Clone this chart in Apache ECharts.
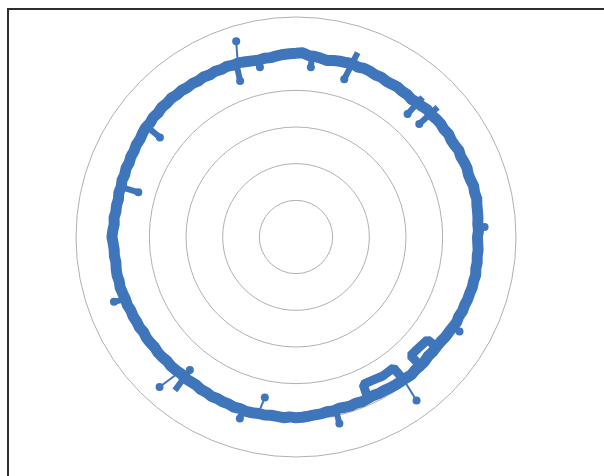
<!DOCTYPE html>
<html>
<head>
<meta charset="utf-8">
<script src="https://cdn.jsdelivr.net/npm/echarts@6/dist/echarts.min.js"></script>
<style>
    html, body { margin: 0; padding: 0; background: #fff; }
    #frame {
        position: absolute; left: 7px; top: 8px; width: 597px; height: 466px;
        border-left: 2px solid #2e2e2e; border-top: 2px solid #2e2e2e;
        border-bottom: 1px solid #ececec;
    }
    #chart { position: absolute; left: 0; top: 0; width: 604px; height: 476px; }
</style>
</head>
<body>
<div id="frame"></div>
<div id="chart"></div>
<script>
// ring radius every 2 degrees, clockwise from top
let ringStep = 2;
let ringRadius = [
    5.01, 5.03, 4.96, 4.95, 4.92, 4.89, 4.92, 4.94, 4.95, 4.97,
    4.93, 4.96, 4.95, 4.92, 4.94, 4.91, 4.92, 4.94, 4.92, 4.93,
    4.90, 4.94, 4.95, 4.99, 4.97, 5.00, 5.01, 4.99, 5.02, 4.99,
    5.00, 5.03, 5.00, 5.02, 5.03, 5.00, 5.01, 5.04, 5.02, 5.04,
    5.01, 5.00, 4.99, 4.97, 4.98, 4.95, 4.96, 4.98, 4.97, 4.99,
    4.98, 5.01, 4.99, 5.00, 4.98, 4.98, 4.96, 4.97, 4.94, 4.96,
    4.93, 4.91, 4.90, 4.87, 4.86, 4.87, 4.85, 4.88, 4.88, 4.87,
    4.90, 4.88, 4.87, 4.86, 4.85, 4.83, 4.83, 4.81, 4.82, 4.84,
    4.82, 4.84, 4.83, 4.82, 4.85, 4.84, 4.87, 4.88, 4.90, 4.92,
    4.93, 4.91, 4.94, 4.92, 4.91, 4.93, 4.92, 4.94, 4.95, 4.92,
    4.94, 4.91, 4.92, 4.90, 4.92, 4.89, 4.90, 4.87, 4.88, 4.90,
    4.87, 4.89, 4.90, 4.88, 4.90, 4.91, 4.89, 4.91, 4.92, 4.90,
    4.93, 4.92, 4.94, 4.93, 4.96, 4.95, 4.97, 4.99, 4.97, 4.99,
    4.98, 4.96, 4.98, 4.97, 4.99, 5.02, 5.00, 4.97, 4.99, 4.96,
    4.97, 4.95, 4.98, 4.96, 4.99, 4.97, 5.00, 4.98, 5.01, 5.00,
    5.03, 5.02, 5.05, 5.07, 5.05, 5.08, 5.06, 5.09, 5.07, 5.09,
    5.06, 5.07, 5.04, 5.05, 5.02, 5.04, 5.01, 5.03, 5.00, 5.02,
    4.99, 5.00, 4.97, 4.95, 4.93, 4.95, 4.94, 4.97, 4.99, 5.00
];

// [radius, angle] pairs
let lollipops = [
    [[5.00, 341.5], [5.58, 343.0]],
    [[4.95, 221.0], [5.53, 222.3]],
    [[4.90, 192.0], [4.46, 191.0]],
    [[4.90, 143.0], [5.54, 143.6]]
];

let stubs = [
    [[5.00, 341.0], [4.52, 340.3]],
    [[5.05, 306.5], [4.60, 306.2]],
    [[4.97, 286.0], [4.47, 285.8]],
    [[5.30, 18.5], [4.50, 17.0]],
    [[5.14, 42.2], [4.53, 42.2]],
    [[5.24, 47.5], [4.56, 47.5]],
    [[5.33, 218.3], [4.64, 218.6]],
    [[4.92, 5.0], [4.65, 5.0]],
    [[4.95, 348.0], [4.73, 348.0]],
    [[4.95, 197.0], [5.18, 197.2]],
    [[4.95, 250.0], [5.27, 250.4]],
    [[4.97, 87.0], [5.15, 87.0]],
    [[4.95, 120.0], [5.15, 120.0]],
    [[4.85, 167.0], [5.22, 166.9]]
];

let boxes = [
    [[4.88, 128.0], [4.55, 128.0], [4.50, 134.0], [4.50, 136.0], [4.88, 136.0]],
    [[4.87, 143.0], [4.45, 143.3], [4.47, 148.0], [4.43, 152.0], [4.42, 155.5], [4.83, 156.0]]
];

let blue = '#3f75bb';

let series = [{
    type: 'line',
    coordinateSystem: 'polar',
    symbol: 'none',
    lineStyle: { color: blue, width: 11, join: 'round' },
    data: ringRadius.map((r, i) => [r, i * ringStep]).concat([[ringRadius[0], 360]])
}];

boxes.forEach(b => series.push({
    type: 'line', coordinateSystem: 'polar', symbol: 'none',
    lineStyle: { color: blue, width: 9 },
    data: b
}));

stubs.forEach(s => series.push({
    type: 'line', coordinateSystem: 'polar', symbol: 'circle',
    symbolSize: (v, p) => p.dataIndex === 1 ? 8 : 0,
    itemStyle: { color: blue },
    lineStyle: { color: blue, width: 6 },
    data: s
}));

lollipops.forEach(s => series.push({
    type: 'line', coordinateSystem: 'polar', symbol: 'circle',
    symbolSize: (v, p) => p.dataIndex === 1 ? 8 : 0,
    itemStyle: { color: blue },
    lineStyle: { color: blue, width: 2 },
    data: s
}));

let chart = echarts.init(document.getElementById('chart'));
chart.setOption({
    animation: false,
    polar: { center: [296, 237], radius: 220 },
    angleAxis: {
        type: 'value', min: 0, max: 360, startAngle: 90, clockwise: true,
        axisLine: { show: false }, axisTick: { show: false },
        axisLabel: { show: false }, splitLine: { show: false }
    },
    radiusAxis: {
        type: 'value', min: 0, max: 6, interval: 1,
        axisLine: { show: false }, axisTick: { show: false },
        axisLabel: { show: false },
        splitLine: { lineStyle: { color: '#b0b0b0', width: 1 } }
    },
    series: series
});
</script>
</body>
</html>
